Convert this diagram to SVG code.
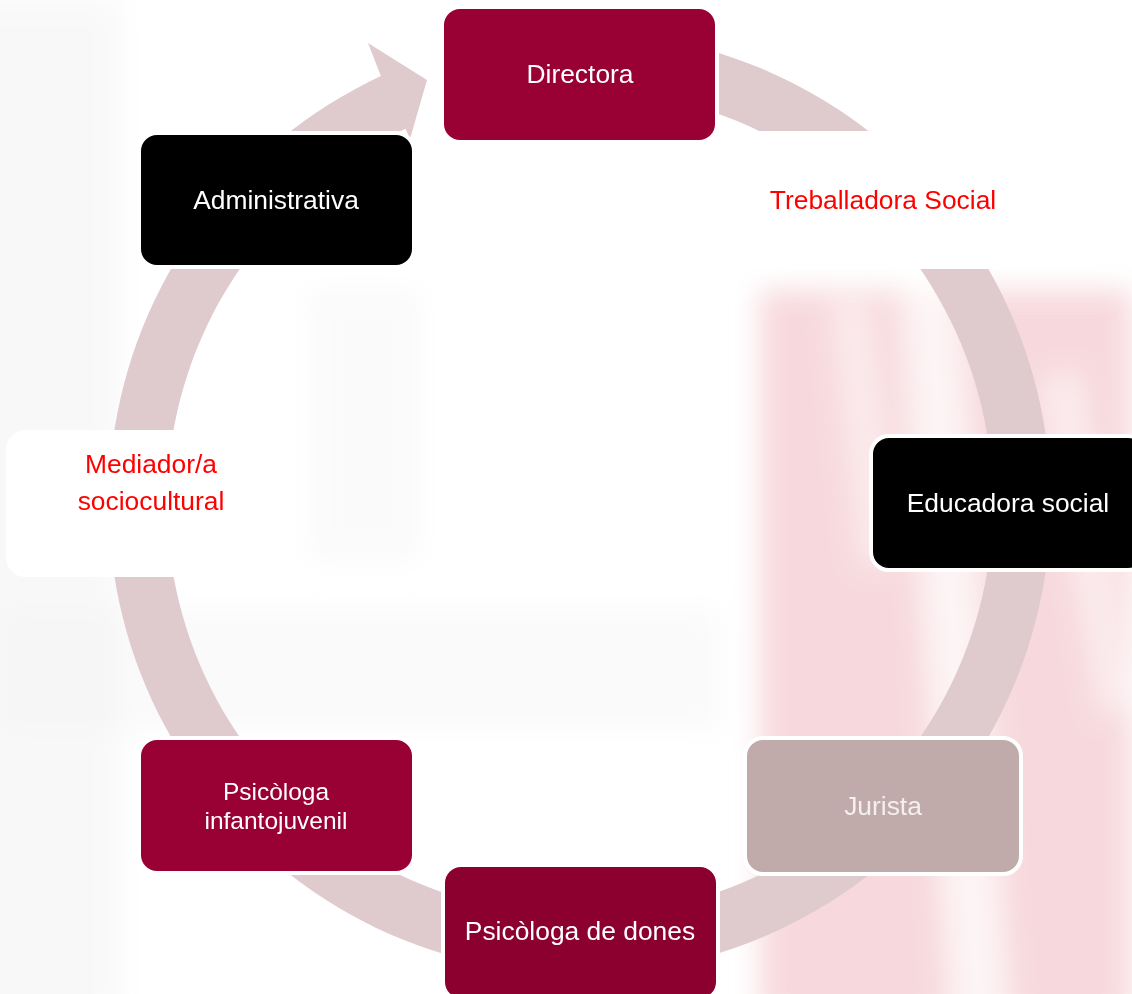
<svg xmlns="http://www.w3.org/2000/svg" width="1132" height="994" viewBox="0 0 1132 994">
  <defs>
    <filter id="blur" filterUnits="userSpaceOnUse" x="-100" y="-100" width="1332" height="1194">
      <feGaussianBlur stdDeviation="14"/>
    </filter>
    <style>
      .box { stroke: #ffffff; stroke-width: 4; }
      .lbl { font-family: "Liberation Sans", Arial, sans-serif; font-size: 26.4px; text-anchor: middle; }
      .sm { font-size: 24.5px; }
      .w { fill: #ffffff; }
      .r { fill: #ff0000; }
      .ring { fill: #dfcbce; }
    </style>
  </defs>
  <rect width="1132" height="994" fill="#ffffff"/>
  <!-- faded background watermark -->
  <g id="background" filter="url(#blur)">
    <polygon points="760,290 1132,290 1132,1020 760,1020" fill="#f7d9dd"/>
    <polygon points="900,290 960,290 1010,1020 950,1020" fill="#ffffff" opacity="0.7"/>
    <polygon points="1040,380 1080,370 1132,700 1100,720" fill="#ffffff" opacity="0.5"/>
    <polygon points="830,300 870,300 900,560 860,570" fill="#ffffff" opacity="0.45"/>
    <rect x="-40" y="0" width="160" height="1020" fill="#f3f3f3" opacity="0.6"/>
    <rect x="310" y="290" width="110" height="270" fill="#f8f8f8" opacity="0.7"/>
    <rect x="0" y="610" width="720" height="120" fill="#f3f3f3" opacity="0.45"/>
  </g>
  <g id="connectors">
    <path class="ring" d="M 498.2 39.2 A 471 471 0 1 1 380.9 76.1 L 368 43 L 427 80 L 410 139 L 405.5 128.7 A 413 413 0 1 0 508.3 96.3 Z"/>
  </g>
  <g id="directora">
    <rect class="box" x="442" y="7" width="275" height="135" rx="18" fill="#990033"/>
    <text class="lbl w" x="580" y="83">Directora</text>
  </g>
  <g id="treballadora-social">
    <rect class="box" x="745" y="133" width="275" height="134" rx="18" fill="#ffffff"/>
    <text class="lbl r" x="883" y="209">Treballadora Social</text>
  </g>
  <g id="educadora-social">
    <rect class="box" x="871" y="436" width="275" height="134" rx="18" fill="#000000"/>
    <text class="lbl w" x="1008" y="512">Educadora social</text>
  </g>
  <g id="jurista">
    <rect class="box" x="745" y="738" width="276" height="136" rx="18" fill="#c0aaaa"/>
    <text class="lbl" x="883" y="815" fill="#f4f0f0">Jurista</text>
  </g>
  <g id="psicologa-dones">
    <rect class="box" x="443" y="865" width="275" height="135" rx="18" fill="#8b002e"/>
    <text class="lbl w" x="580" y="940">Psicòloga de dones</text>
  </g>
  <g id="psicologa-infantojuvenil">
    <rect class="box" x="139" y="738" width="275" height="135" rx="18" fill="#990033"/>
    <text class="lbl sm w" x="276" y="800">Psicòloga</text>
    <text class="lbl sm w" x="276" y="829">infantojuvenil</text>
  </g>
  <g id="mediador">
    <rect class="box" x="8" y="432" width="275" height="143" rx="18" fill="#ffffff"/>
    <text class="lbl r" x="151" y="473">Mediador/a</text>
    <text class="lbl r" x="151" y="510">sociocultural</text>
  </g>
  <g id="administrativa">
    <rect class="box" x="139" y="133" width="275" height="134" rx="18" fill="#000000"/>
    <text class="lbl w" x="276" y="209">Administrativa</text>
  </g>
</svg>
